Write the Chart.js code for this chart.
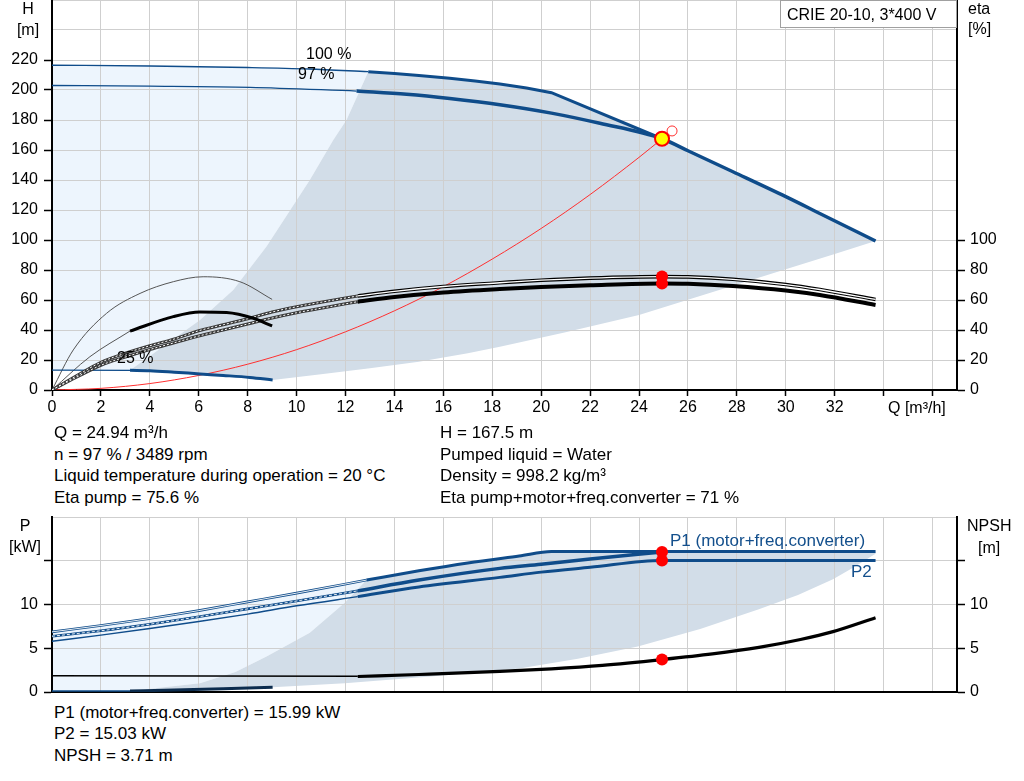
<!DOCTYPE html>
<html><head><meta charset="utf-8">
<script src="https://cdn.jsdelivr.net/npm/chart.js@4.4.1/dist/chart.umd.min.js"></script>
<style>
html,body{margin:0;padding:0;background:#fff;}
body{width:1024px;height:781px;position:relative;overflow:hidden;font-family:"Liberation Sans",Arial,sans-serif;color:#000;}
.cv{position:absolute;left:0;}
.t{position:absolute;white-space:nowrap;font-size:16px;line-height:20px;}
.i{font-size:17px;}
.c{text-align:center;width:40px;}
.b{color:#134f8c;font-size:17px;}
#box{position:absolute;left:780px;top:0;width:177px;height:28px;border:1px solid #a0a0a0;background:#fff;font-size:16px;line-height:27px;padding-left:6px;box-sizing:border-box;white-space:nowrap;}
</style></head><body>
<div class="cv" style="top:0;width:1024px;height:425px;"><canvas id="c1" width="1024" height="425"></canvas></div>
<div class="cv" style="top:510px;width:1024px;height:190px;"><canvas id="c2" width="1024" height="190"></canvas></div>

<div class="t c" style="left:8px;top:-1px;">H</div>
<div class="t c" style="left:8px;top:20px;">[m]</div>
<div class="t" style="left:968px;top:-1px;">eta</div>
<div class="t" style="left:968px;top:19px;">[%]</div>
<div id="box">CRIE 20-10, 3*400 V</div>
<div class="t" style="left:306px;top:44px;">100 %</div>
<div class="t" style="left:298px;top:64px;">97 %</div>
<div class="t" style="left:117px;top:348px;">25 %</div>
<div class="t" style="left:888px;top:398px;">Q [m³/h]</div>

<div class="t i" style="left:54px;top:423px;">Q = 24.94 m³/h</div>
<div class="t i" style="left:54px;top:445px;">n = 97 % / 3489 rpm</div>
<div class="t i" style="left:54px;top:466px;">Liquid temperature during operation = 20 °C</div>
<div class="t i" style="left:54px;top:488px;">Eta pump = 75.6 %</div>
<div class="t i" style="left:440px;top:423px;">H = 167.5 m</div>
<div class="t i" style="left:440px;top:445px;">Pumped liquid = Water</div>
<div class="t i" style="left:440px;top:466px;">Density = 998.2 kg/m³</div>
<div class="t i" style="left:440px;top:488px;">Eta pump+motor+freq.converter = 71 %</div>

<div class="t c" style="left:5px;top:516px;">P</div>
<div class="t c" style="left:5px;top:537px;">[kW]</div>
<div class="t" style="left:967px;top:516px;">NPSH</div>
<div class="t" style="left:978px;top:538px;">[m]</div>
<div class="t b" style="left:670px;top:531px;">P1 (motor+freq.converter)</div>
<div class="t b" style="left:851px;top:562px;">P2</div>

<div class="t i" style="left:54px;top:703px;">P1 (motor+freq.converter) = 15.99 kW</div>
<div class="t i" style="left:54px;top:724px;">P2 = 15.03 kW</div>
<div class="t i" style="left:54px;top:746px;">NPSH = 3.71 m</div>

<script>
// ---------- Top chart data (Q in m3/h, H in m, eta in %) ----------
const xTicksTop = [0,2,4,6,8,10,12,14,16,18,20,22,24,26,28,30,32];
const hTickLabels = [0,20,40,60,80,100,120,140,160,180,200,220];
const etaTickLabels = [0,20,40,60,80,100];

const q100Thin = [0, 4, 8, 10.5, 12.93];
const h100Thin = [216.5, 216, 215, 214, 212.2];
const q100 = [12.93, 14, 15, 16.26, 17.3, 18.31, 19.4, 20.42, 24.94];
const h100 = [212.2, 211, 209.7, 207.8, 206, 204, 201.3, 198.2, 167.5];

const q97Thin = [0, 4, 8.09, 12.45];
const h97Thin = [203, 202.6, 201.8, 199.3];
const q97 = [12.45, 14.5, 16.26, 18.31, 20.42, 22.4, 24.94, 26, 27.84, 30, 31.39, 33.67];
const h97 = [199.3, 197.1, 194.3, 190.2, 184.6, 177.8, 167.5, 159.5, 145.5, 128.9, 117.7, 99.3];

const q25Thin = [0, 3.19];
const h25Thin = [13.3, 13.1];
const q25 = [3.19, 4, 5, 6.05, 7, 8.09, 9.02];
const h25 = [13.1, 12.9, 11.9, 10.7, 9.7, 8.4, 6.7];

const qLight = [0, 0, 4, 8, 10.5, 12.93, 12.04, 11.5, 10.54, 8.77, 7.41, 6.05, 4.5, 3.19];
const hLight = [13.3, 216.5, 216, 215, 214, 212.2, 180, 166.7, 140, 95.6, 66.7, 46.7, 28.5, 13.1];

const qDark = [3.19, 4.5, 6.05, 7.41, 8.77, 10.54, 11.5, 12.04, 12.93, 14, 15, 16.26, 17.3, 18.31, 19.4, 20.42, 24.94,
  26, 27.84, 30, 31.39, 33.67, 32, 30, 28, 24, 21, 18.31, 17, 15, 13, 11, 9.02, 8.09, 7, 6.05, 5, 4, 3.19];
const hDark = [13.1, 28.5, 46.7, 66.7, 95.6, 140, 166.7, 180, 212.2, 211, 209.7, 207.8, 206, 204, 201.3, 198.2, 167.5,
  159.5, 145.5, 128.9, 117.7, 99.3, 90.6, 80.5, 70.3, 50, 38.5, 28.9, 24.5, 18.9, 14.5, 10.5, 6.7, 8.4, 9.7, 10.7, 11.9, 12.9, 13.1];

const qEtaPumpThin = [0, 1, 2, 3, 4, 5, 6, 7, 8, 9, 10, 11, 12.5];
const etaPumpThin  = [0, 9.5, 18.5, 24.5, 29.5, 34, 39.5, 43.5, 47.5, 52, 55.5, 58.5, 62.7];
const qEtaTotThin  = [0, 1, 2, 3, 4, 5, 6, 7, 8, 9, 10, 11, 12.5];
const etaTotThin   = [0, 8.5, 16.5, 22, 27, 31.5, 36, 40, 44, 48, 51.5, 54.5, 58.9];
const qEta = [12.5, 14, 16, 18.31, 20, 22, 24.94, 26, 27.84, 30, 31.39, 33.67];
const etaPump = [62.7, 65.8, 69, 71.5, 73.2, 74.6, 75.6, 75.4, 73.8, 70.3, 67, 60.4];
const etaTot  = [58.9, 62, 65, 67.3, 68.6, 69.8, 71, 70.8, 69.3, 66.3, 63.3, 56.7];

const qEta25Pump = [0, 0.87, 2.23, 3.6, 4.96, 6.18, 7.68, 9.0];
const eta25Pump  = [0, 26.7, 51.1, 64.4, 72.2, 75.5, 72.2, 60.4];
const qEta25TotThin = [0, 1.55, 3.19];
const eta25TotThin  = [0, 22.2, 39.3];
const qEta25Tot = [3.19, 4.96, 6.05, 7.14, 8.23, 9.0];
const eta25Tot  = [39.3, 48.9, 52, 51.6, 47.8, 42.7];

const qSystem = [0, 2, 4, 6, 8, 10, 12, 14, 16, 18, 20, 22, 24, 24.94];
const hSystem = [0, 1.1, 4.3, 9.7, 17.2, 26.9, 38.8, 52.8, 68.9, 87.3, 107.7, 130.3, 155.1, 167.5];

const qDuty = [24.94]; const hDuty = [167.5];
const qDutyMax = [25.35]; const hDutyMax = [172.7];
const etaDuty = [75.6, 71];

// ---------- Bottom chart data (P in kW, NPSH in m) ----------
const pTickLabels = [0, 5, 10];
const qP1Thin = [0, 2, 4, 6, 8, 10, 12.86];
const pP1Thin = [6.87, 7.6, 8.4, 9.3, 10.3, 11.3, 12.79];
const qP1 = [12.86, 15, 17, 19.1, 20.42, 24.94, 33.67];
const pP1 = [12.79, 13.85, 14.75, 15.55, 16.05, 16.05, 16.05];
const qP1nThin = [0, 2, 4, 6, 8, 10, 12.5];
const pP1nThin = [6.37, 7.0, 7.75, 8.6, 9.5, 10.4, 11.56];
const qP1n = [12.5, 15, 18.31, 20, 22, 24.94];
const pP1n = [11.56, 12.8, 14.13, 14.6, 15.2, 16.0];
const qP2Thin = [0, 2, 4, 6, 8, 10, 12.5];
const pP2Thin = [5.8, 6.5, 7.25, 8.05, 8.9, 9.85, 10.9];
const qP2 = [12.5, 15, 18.31, 20, 22, 24.94, 33.67];
const pP2 = [10.9, 12.0, 13.1, 13.7, 14.25, 15.03, 15.03];
const qP25Thin = [0, 3.19]; const pP25Thin = [0.12, 0.12];
const qP25 = [3.19, 5, 7, 9.02]; const pP25 = [0.12, 0.22, 0.36, 0.55];
const qNpshThin = [0, 12.5]; const npshThin = [1.85, 1.8];
const qNpsh = [12.5, 15, 18.31, 20.42, 22.5, 24.94, 27, 28.9, 30.6, 31.93, 33.67];
const npsh  = [1.77, 2.0, 2.35, 2.65, 3.05, 3.71, 4.35, 5.1, 6.0, 6.9, 8.49];
const qPLight = [0, 0, 2, 4, 6, 8, 10, 12.86, 11.97, 10.54, 8.77, 7.5, 6.05, 3.19];
const pPLight = [0.12, 6.87, 7.6, 8.4, 9.3, 10.3, 11.3, 12.79, 10.2, 6.76, 4.07, 2.3, 1.0, 0.12];
const qPDark = [3.19, 6.05, 7.5, 8.77, 10.54, 11.97, 12.86, 15, 17, 19.1, 20.42, 33.67,
  33.67, 32.8, 31.93, 30.5, 28.9, 26.5, 23.95, 21.5, 19.1, 15.6, 11.97, 9.02, 7, 5, 3.19];
const pPDark = [0.12, 1.0, 2.3, 4.07, 6.76, 10.2, 12.79, 13.85, 14.75, 15.55, 16.05, 16.05,
  15.8, 14.3, 12.9, 11.1, 9.45, 7.2, 5.2, 3.8, 2.7, 1.8, 1.0, 0.55, 0.36, 0.22, 0.12];
const qDutyP = [24.94, 24.94]; const pDuty = [16.0, 15.03];
const qDutyN = [24.94]; const nDuty = [3.71];

// ---------- helpers ----------
const pts = (xs, ys) => xs.map((x, i) => ({x, y: ys[i]}));
const BLUE = '#0f4c8a';
const LIGHT = '#edf5fd';
const DARK = '#d2dde8';
const GRID = '#cfcfcf';
const FONT = {family: '"Liberation Sans", Arial, sans-serif', size: 16};
const NONE = 'rgba(0,0,0,0)';

function line(data, color, width, order, extra) {
  return Object.assign({data, borderColor: color, borderWidth: width, pointRadius: 0,
    fill: false, cubicInterpolationMode: 'monotone', order, yAxisID: 'y'}, extra || {});
}
function poly(data, color, order) {
  return {data, borderColor: NONE, borderWidth: 0, backgroundColor: color, fill: 'shape',
    pointRadius: 0, tension: 0, order, yAxisID: 'y'};
}
function dots(data, order, extra) {
  return Object.assign({data, showLine: false, pointRadius: 6, pointBackgroundColor: '#ff0000',
    pointBorderColor: '#ff0000', pointBorderWidth: 0, order, yAxisID: 'y'}, extra || {});
}
const fixW = w => s => { s.width = w; s.paddingTop = 0; s.paddingBottom = 0; };
const fixH = h => s => { s.height = h; s.paddingLeft = 0; s.paddingRight = 0; };

Chart.defaults.font.family = FONT.family;
Chart.defaults.color = '#000';

// ---------- Top chart ----------
new Chart(document.getElementById('c1'), {
  type: 'line',
  data: { datasets: [
    poly(pts(qLight, hLight), LIGHT, 100),
    poly(pts(qDark, hDark), DARK, 90),
    line(pts(qSystem, hSystem), '#ff3030', 1, 60),
    line(pts(q100Thin, h100Thin), BLUE, 1.3, 50),
    line(pts(q97Thin, h97Thin), BLUE, 1.3, 50),
    line(pts(q25Thin, h25Thin), BLUE, 1.3, 50),
    line(pts(qEta25Pump, eta25Pump), '#555', 1, 50),
    line(pts(qEta25TotThin, eta25TotThin), '#555', 1, 50),
    line(pts(qEtaPumpThin, etaPumpThin), '#3a3a3a', 3, 48),
    line(pts(qEtaTotThin, etaTotThin), '#3a3a3a', 3, 48),
    line(pts(qEtaPumpThin, etaPumpThin), '#ffffff', 1, 47, {borderDash: [2, 2]}),
    line(pts(qEtaTotThin, etaTotThin), '#ffffff', 1, 47, {borderDash: [2, 2]}),
    line(pts(q100, h100), BLUE, 3, 40, {cubicInterpolationMode: 'default', tension: 0}),
    line(pts(q97, h97), BLUE, 3.5, 40),
    line(pts(q25, h25), BLUE, 3, 40),
    line(pts(qEta25Tot, eta25Tot), '#000', 3, 40),
    line(pts(qEta, etaTot), '#000', 4, 40),
    line(pts(qEta, etaPump), '#000', 3.6, 40),
    line(pts(qEta, etaPump), '#ffffff', 1.3, 35),
    dots(pts([qDuty[0], qDuty[0]], etaDuty), 20),
    dots(pts(qDutyMax, hDutyMax), 15, {pointRadius: 5, pointBackgroundColor: NONE, pointBorderColor: '#ff3030', pointBorderWidth: 1}),
    dots(pts(qDuty, hDuty), 10, {pointRadius: 7, pointBackgroundColor: '#ffff00', pointBorderColor: '#ff0000', pointBorderWidth: 2})
  ]},
  options: {
    responsive: false, animation: false, events: [],
    layout: {autoPadding: false, padding: {top: 0, left: 0, right: 0, bottom: 0}},
    plugins: {legend: {display: false}, tooltip: {enabled: false}, filler: {drawTime: 'beforeDraw'}},
    scales: {
      x: {type: 'linear', min: 0, max: 37, afterFit: fixH(35),
        ticks: {stepSize: 2, includeBounds: false, autoSkip: false, maxRotation: 0, padding: 2, font: FONT,
          callback: v => xTicksTop.includes(v) ? String(v) : ''},
        grid: {color: GRID, lineWidth: 1, tickLength: 6, tickColor: '#000', tickWidth: 1.5},
        border: {color: '#000', width: 2}},
      y: {type: 'linear', position: 'left', min: 0, max: 260, afterFit: fixW(52),
        ticks: {stepSize: 20, includeBounds: false, autoSkip: false, padding: 6, font: FONT,
          callback: v => hTickLabels.includes(v) ? String(v) : ''},
        grid: {color: GRID, lineWidth: 1, tickLength: 8,
          tickColor: c => (c.tick && hTickLabels.includes(c.tick.value)) ? '#000' : NONE, tickWidth: 1.5},
        border: {color: '#000', width: 2}},
      y2: {type: 'linear', position: 'right', min: 0, max: 260, afterFit: fixW(67),
        ticks: {stepSize: 20, includeBounds: false, autoSkip: false, padding: 5, font: FONT,
          callback: v => etaTickLabels.includes(v) ? String(v) : ''},
        grid: {drawOnChartArea: false, tickLength: 8,
          tickColor: c => (c.tick && etaTickLabels.includes(c.tick.value)) ? '#000' : NONE, tickWidth: 1.5},
        border: {color: '#000', width: 2}}
    }
  }
});

// ---------- Bottom chart ----------
new Chart(document.getElementById('c2'), {
  type: 'line',
  data: { datasets: [
    poly(pts(qPLight, pPLight), LIGHT, 100),
    poly(pts(qPDark, pPDark), DARK, 90),
    line(pts(qNpshThin, npshThin), '#000', 1.5, 50),
    line(pts(qP25Thin, pP25Thin), BLUE, 1.5, 50),
    line(pts(qP1Thin, pP1Thin), BLUE, 2.6, 50),
    line(pts(qP1nThin, pP1nThin), BLUE, 2.6, 50),
    line(pts(qP2Thin, pP2Thin), BLUE, 1.5, 50),
    line(pts(qP1Thin, pP1Thin), '#ffffff', 0.9, 45),
    line(pts(qP1nThin, pP1nThin), '#ffffff', 0.9, 45, {borderDash: [3, 2]}),
    line(pts(qP1, pP1), BLUE, 3, 40),
    line(pts(qP1n, pP1n), BLUE, 3.5, 40),
    line(pts(qP2, pP2), BLUE, 3, 40),
    line(pts(qP25, pP25), '#0b2b4d', 3, 40),
    line(pts(qNpsh, npsh), '#000', 3.2, 40),
    dots(pts(qDutyP, pDuty), 20),
    dots(pts(qDutyN, nDuty), 20)
  ]},
  options: {
    responsive: false, animation: false, events: [],
    layout: {autoPadding: false, padding: {top: 7, left: 0, right: 0, bottom: 0}},
    plugins: {legend: {display: false}, tooltip: {enabled: false}, filler: {drawTime: 'beforeDraw'}},
    scales: {
      x: {type: 'linear', min: 0, max: 37, afterFit: fixH(8),
        ticks: {display: false, stepSize: 2, includeBounds: false},
        grid: {color: GRID, lineWidth: 1, drawTicks: false},
        border: {color: '#000', width: 2}},
      y: {type: 'linear', position: 'left', min: 0, max: 20, afterFit: fixW(52),
        ticks: {stepSize: 5, includeBounds: false, autoSkip: false, padding: 6, font: FONT,
          callback: v => pTickLabels.includes(v) ? String(v) : ''},
        grid: {color: GRID, lineWidth: 1, tickLength: 8,
          tickColor: c => (c.tick && c.tick.value <= 15) ? '#000' : NONE, tickWidth: 1.5},
        border: {color: '#000', width: 2}},
      y2: {type: 'linear', position: 'right', min: 0, max: 20, afterFit: fixW(67),
        ticks: {stepSize: 5, includeBounds: false, autoSkip: false, padding: 5, font: FONT,
          callback: v => pTickLabels.includes(v) ? String(v) : ''},
        grid: {drawOnChartArea: false, tickLength: 8,
          tickColor: c => (c.tick && c.tick.value <= 15) ? '#000' : NONE, tickWidth: 1.5},
        border: {color: '#000', width: 2}}
    }
  }
});
</script>
</body></html>
